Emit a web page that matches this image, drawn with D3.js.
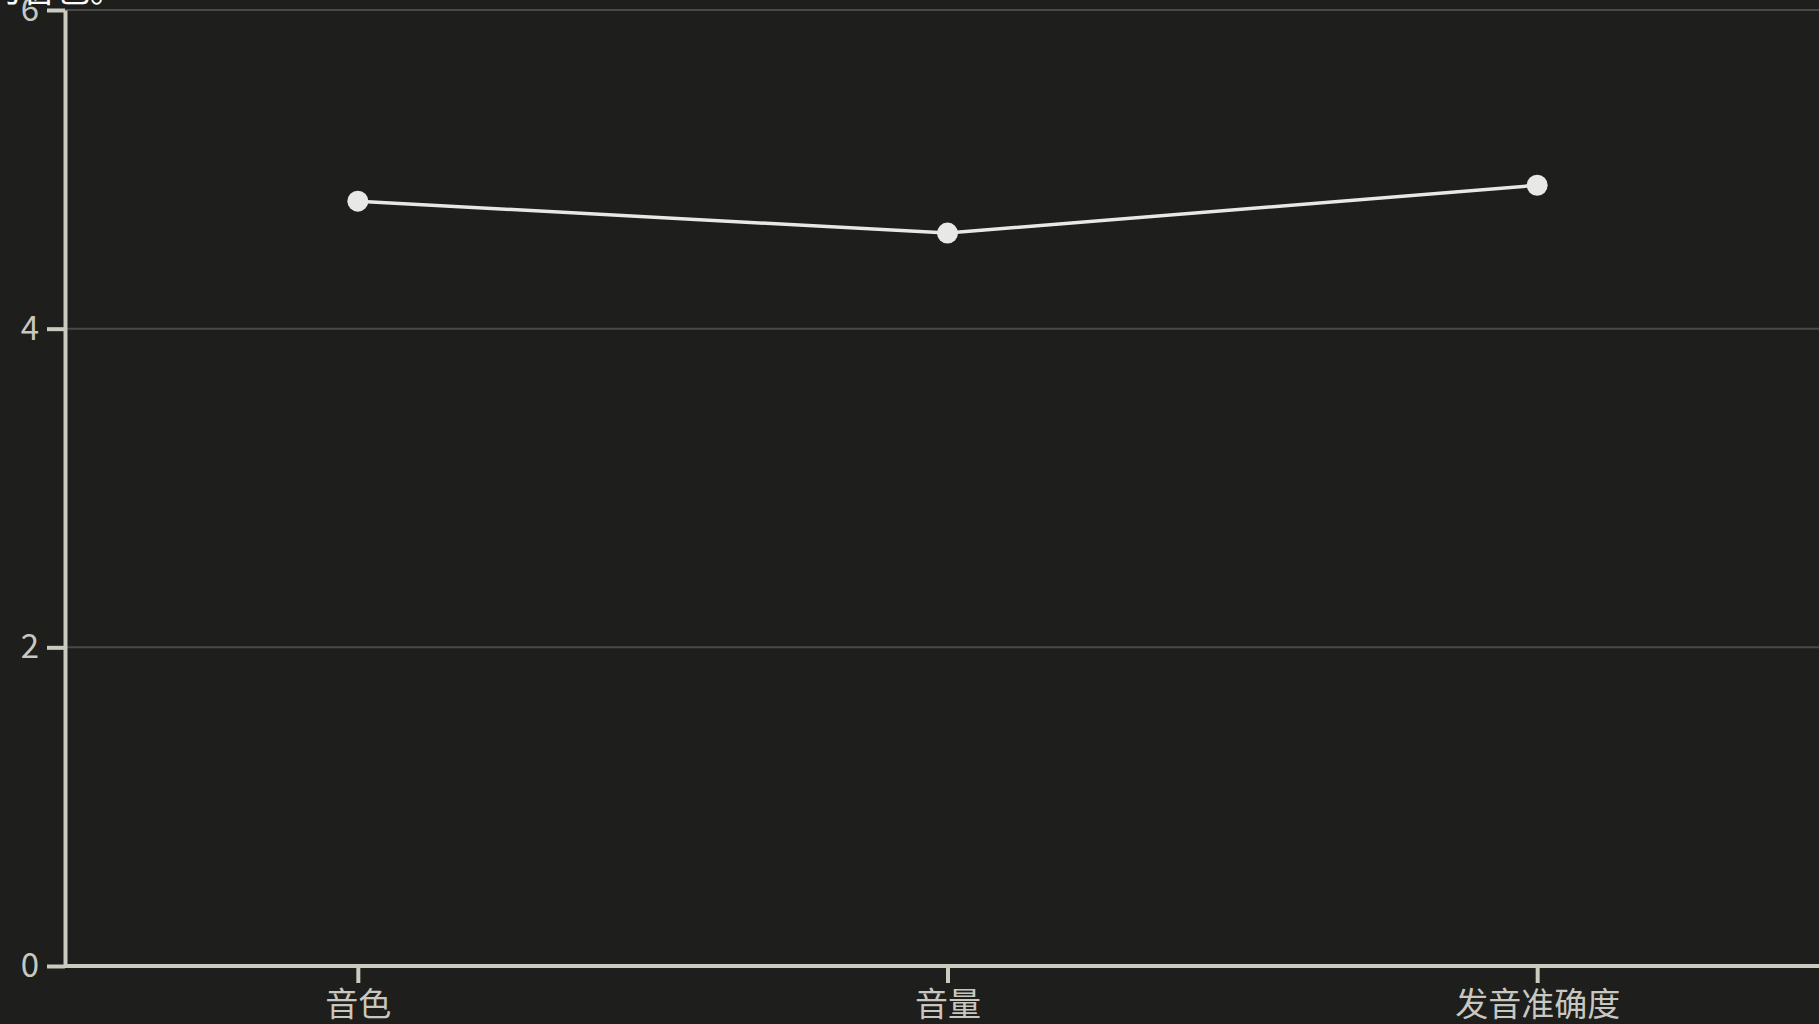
<!DOCTYPE html>
<html>
<head>
<meta charset="utf-8">
<script src="https://cdn.jsdelivr.net/npm/d3@7"></script>
<style>
  html, body { margin: 0; padding: 0; background: #1e1e1c; overflow: hidden; }
  svg { display: block; }
</style>
</head>
<body>
<svg id="chart" width="1819" height="1024"></svg>
<script>
const categories = ['音色', '音量', '发音准确度'];
const scores = [4.8, 4.6, 4.9];
const yTicks = [0, 2, 4, 6];
const titleText = '为音色。';

const width = 1819, height = 1024;
const marginLeft = 65, axisBottom = 966, axisTop = 10;

const svg = d3.select('#chart');
const font = '"Noto Sans CJK SC", "Noto Sans", sans-serif';
const axisColor = '#cbcbc0';

svg.append('rect').attr('width', width).attr('height', height).attr('fill', '#1e1e1c');

const x = d3.scalePoint().domain(categories).range([63, 1832]).padding(0.5);
const y = d3.scaleLinear().domain([0, 6]).range([axisBottom, axisTop]);

// grid
svg.append('g')
    .selectAll('line')
    .data(yTicks.filter(d => d > 0))
    .join('line')
    .attr('x1', marginLeft).attr('x2', width)
    .attr('y1', d => y(d)).attr('y2', d => y(d))
    .attr('stroke', '#4a4a48')
    .attr('stroke-width', 2);

// y axis
const yAxis = svg.append('g')
    .attr('transform', `translate(${marginLeft},0)`)
    .call(d3.axisLeft(y).tickValues(yTicks).tickFormat(d3.format('d'))
        .tickSize(18).tickPadding(8).tickSizeOuter(0));

// x axis
const xAxis = svg.append('g')
    .attr('transform', `translate(0,${axisBottom})`)
    .call(d3.axisBottom(x).tickSize(17).tickPadding(10).tickSizeOuter(0));

xAxis.select('.domain').attr('d', `M${marginLeft},0H${width}`);

[yAxis, xAxis].forEach(g => {
    g.select('.domain').attr('stroke', axisColor).attr('stroke-width', 4);
    g.selectAll('.tick line').attr('stroke', axisColor).attr('stroke-width', 4);
    g.selectAll('.tick text')
        .attr('fill', '#c8c8c0')
        .style('font-family', font)
        .style('font-size', '33px');
});

// line
const line = d3.line()
    .x((d, i) => x(categories[i]))
    .y(d => y(d));

svg.append('path')
    .datum(scores)
    .attr('d', line)
    .attr('fill', 'none')
    .attr('stroke', '#e8e8e6')
    .attr('stroke-width', 3.5);

svg.append('g')
    .selectAll('circle')
    .data(scores)
    .join('circle')
    .attr('cx', (d, i) => x(categories[i]))
    .attr('cy', d => y(d))
    .attr('r', 10.5)
    .attr('fill', '#e8e8e6');

// clipped title text at top-left
svg.append('text')
    .attr('x', -12)
    .attr('y', 2)
    .attr('fill', '#ffffff')
    .style('font-family', font)
    .style('font-size', '34px')
    .text(titleText);
</script>
</body>
</html>
